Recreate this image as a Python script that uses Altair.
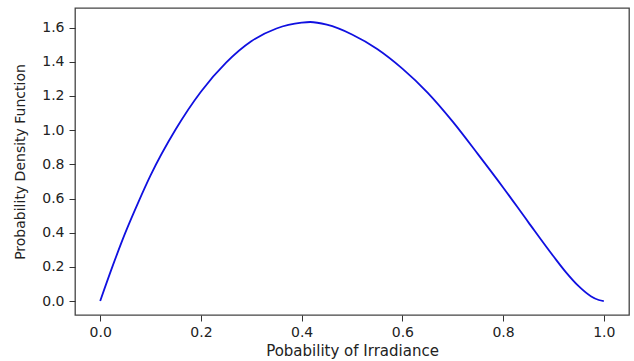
import altair as alt
import pandas as pd

# Values
x_vals = [0.0, 0.025, 0.05, 0.075, 0.1, 0.15, 0.2, 0.25, 0.3, 0.35, 0.4,
          0.417, 0.45, 0.5, 0.55, 0.6, 0.65, 0.7, 0.75, 0.8, 0.85,
          0.9, 0.925, 0.95, 0.975, 0.99, 1.0]
pdf_vals = [0.0, 0.207, 0.40, 0.573, 0.735, 1.005, 1.225, 1.395, 1.52, 1.595, 1.629,
            1.633, 1.617, 1.56, 1.475, 1.36, 1.22, 1.05, 0.86, 0.665, 0.462,
            0.262, 0.168, 0.087, 0.027, 0.006, 0.0]

x_ticks = [0.0, 0.2, 0.4, 0.6, 0.8, 1.0]
y_ticks = [0.0, 0.2, 0.4, 0.6, 0.8, 1.0, 1.2, 1.4, 1.6]

df = pd.DataFrame({"x": x_vals, "y": pdf_vals})

font = "DejaVu Sans"

chart = alt.Chart(df).mark_line(color="#1010e0", strokeWidth=1.8, interpolate="monotone").encode(
    x=alt.X("x:Q",
            scale=alt.Scale(domain=[-0.05, 1.05], nice=False, zero=False),
            axis=alt.Axis(values=x_ticks, format=".1f", title="Pobability of Irradiance",
                          grid=False, domain=False, tickSize=6, tickColor="#333",
                          labelFontSize=14, labelPadding=4, labelColor="#222",
                          titleFontSize=15, titleFontWeight="normal", titleColor="#222",
                          titlePadding=4, labelFont=font, titleFont=font)),
    y=alt.Y("y:Q",
            scale=alt.Scale(domain=[-0.0817, 1.715], nice=False, zero=False),
            axis=alt.Axis(values=y_ticks, format=".1f", title="Probability Density Function",
                          grid=False, domain=False, tickSize=6, tickColor="#333",
                          labelFontSize=14, labelPadding=5, labelColor="#222",
                          titleFontSize=14, titleFontWeight="normal", titleColor="#222",
                          titlePadding=14, labelFont=font, titleFont=font)),
).properties(
    width=554,
    height=307,
    autosize=alt.AutoSizeParams(type="none"),
    padding={"left": 75, "top": 8, "right": 5, "bottom": 46},
    background="white",
).configure_view(
    stroke="#444", strokeWidth=1.3
)

chart.save("out.html", embed_options={"renderer": "svg", "actions": False})
